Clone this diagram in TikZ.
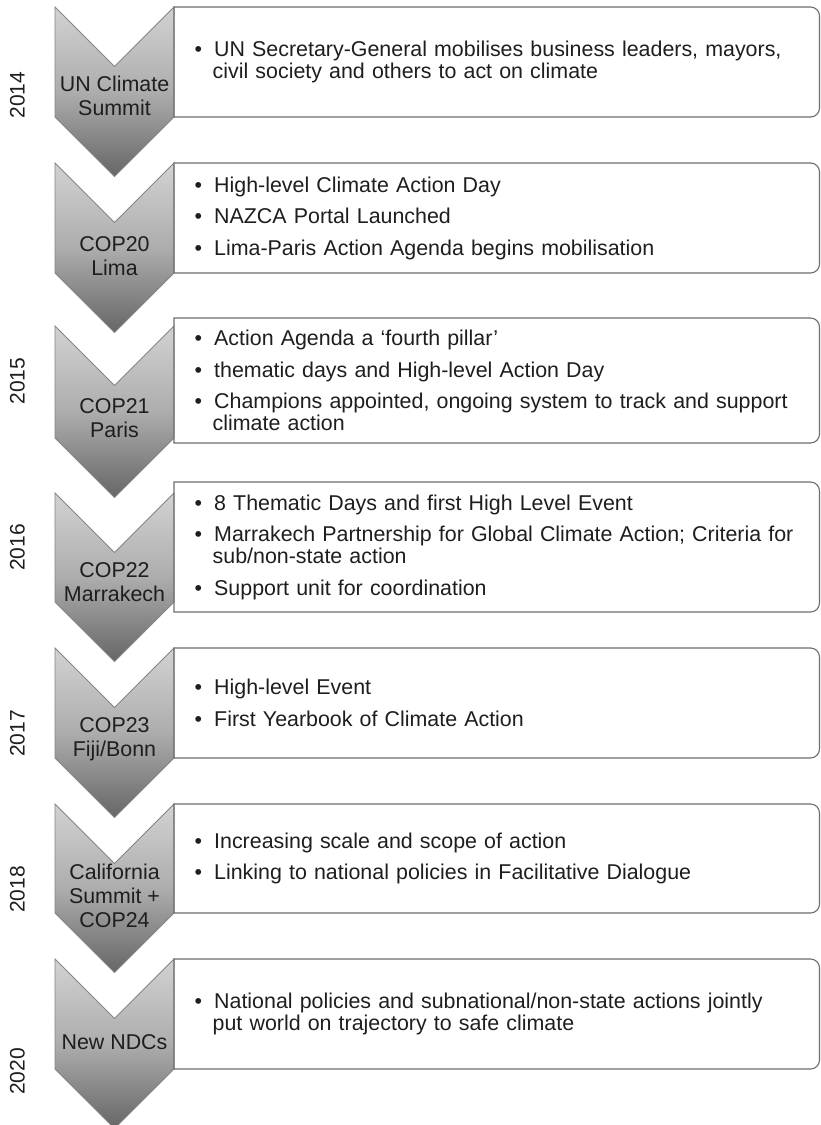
\documentclass[tikz,border=0pt]{standalone}
\usepackage{fontspec}
\setmainfont{Liberation Sans}
\definecolor{txt}{HTML}{1E1E1E}
\definecolor{boxline}{HTML}{6E6E6E}
\definecolor{chevline}{HTML}{858585}
\definecolor{chevtop}{HTML}{D2D2D2}
\definecolor{chevmid}{HTML}{ADADAD}
\definecolor{chevbot}{HTML}{666666}
\newcommand{\bfirst}[1]{\hangindent=18pt\hangafter=1\noindent\makebox[19.5pt][l]{\textbullet}#1\par}
\newcommand{\bnext}[1]{\vskip9.5pt\bfirst{#1}}
\begin{document}
\begin{tikzpicture}[x=1pt,y=1pt,
  chev/.style={draw=chevline, line width=0.9pt, top color=chevtop, bottom color=chevbot, middle color=chevmid, line join=miter},
  boxdraw/.style={draw=boxline, line width=1.1pt},
  items/.style={anchor=west, inner sep=0pt, text width=640pt, align=left, text=txt, font=\fontsize{21.4}{22}\selectfont},
  clabel/.style={inner sep=0pt, align=center, text=txt, font=\fontsize{21.4}{24}\selectfont},
  year/.style={inner sep=0pt, rotate=90, text=txt, font=\fontsize{21}{24}\selectfont}]
\fill[white] (0,0) rectangle (820,-1125);
\useasboundingbox (0,0) rectangle (820,-1125);

% chevrons
\draw[chev] (55,-7) -- (114.5,-66.5) -- (174,-7) -- (174,-117) -- (114.5,-176.5) -- (55,-117) -- cycle;
\draw[chev] (55,-163) -- (114.5,-222.5) -- (174,-163) -- (174,-273) -- (114.5,-332.5) -- (55,-273) -- cycle;
\draw[chev] (55,-326) -- (114.5,-385.5) -- (174,-326) -- (174,-438) -- (114.5,-497.5) -- (55,-438) -- cycle;
\draw[chev] (55,-493) -- (114.5,-552.5) -- (174,-493) -- (174,-602) -- (114.5,-661.5) -- (55,-602) -- cycle;
\draw[chev] (55,-648) -- (114.5,-707.5) -- (174,-648) -- (174,-758) -- (114.5,-817.5) -- (55,-758) -- cycle;
\draw[chev] (55,-804) -- (114.5,-863.5) -- (174,-804) -- (174,-913) -- (114.5,-972.5) -- (55,-913) -- cycle;
\draw[chev] (55,-959) -- (114.5,-1018.5) -- (174,-959) -- (174,-1069) -- (114.5,-1128.5) -- (55,-1069) -- cycle;

% boxes
\draw[boxdraw] (174,-7) -- (810.5,-7) arc[start angle=90,end angle=0,radius=9] -- (819.5,-108) arc[start angle=0,end angle=-90,radius=9] -- (174,-117) -- cycle;
\draw[boxdraw] (174,-163) -- (810.5,-163) arc[start angle=90,end angle=0,radius=9] -- (819.5,-264) arc[start angle=0,end angle=-90,radius=9] -- (174,-273) -- cycle;
\draw[boxdraw] (174,-318) -- (810.5,-318) arc[start angle=90,end angle=0,radius=9] -- (819.5,-434) arc[start angle=0,end angle=-90,radius=9] -- (174,-443) -- cycle;
\draw[boxdraw] (174,-482) -- (810.5,-482) arc[start angle=90,end angle=0,radius=9] -- (819.5,-603) arc[start angle=0,end angle=-90,radius=9] -- (174,-612) -- cycle;
\draw[boxdraw] (174,-648) -- (810.5,-648) arc[start angle=90,end angle=0,radius=9] -- (819.5,-749) arc[start angle=0,end angle=-90,radius=9] -- (174,-758) -- cycle;
\draw[boxdraw] (174,-804) -- (810.5,-804) arc[start angle=90,end angle=0,radius=9] -- (819.5,-904) arc[start angle=0,end angle=-90,radius=9] -- (174,-913) -- cycle;
\draw[boxdraw] (174,-959) -- (810.5,-959) arc[start angle=90,end angle=0,radius=9] -- (819.5,-1060) arc[start angle=0,end angle=-90,radius=9] -- (174,-1069) -- cycle;

% chevron labels
\node[clabel] (c1) at (114.5,-95.8) {UN Climate\\Summit};
\node[clabel] (c2) at (114.5,-255.8) {COP20\\Lima};
\node[clabel] (c3) at (114.5,-418.3) {COP21\\Paris};
\node[clabel] (c4) at (114.5,-581.8) {COP22\\Marrakech};
\node[clabel] (c5) at (114.5,-739.5) {COP23\\Fiji/Bonn};
\node[clabel] (c6) at (114.5,-895.8) {California\\Summit +\\COP24};
\node[clabel] (c7) at (114.5,-1042.3) {New NDCs};

% years
\node[year] (y1) at (17.5,-95) {2014};
\node[year] (y2) at (17.5,-381) {2015};
\node[year] (y3) at (17.5,-547.5) {2016};
\node[year] (y4) at (17.5,-733.5) {2017};
\node[year] (y5) at (17.5,-889.5) {2018};
\node[year] (y6) at (17.5,-1071.5) {2020};

% box texts
\node[items] (t1) at (194.5,-62) {\bfirst{UN Secretary-General mobilises business leaders, mayors,\newline civil society and others to act on climate}};
\node[items] (t2) at (194.5,-218) {\bfirst{High-level Climate Action Day}\bnext{NAZCA Portal Launched}\bnext{Lima-Paris Action Agenda begins mobilisation}};
\node[items] (t3) at (194.5,-380.5) {\bfirst{Action Agenda a ‘fourth pillar’}\bnext{thematic days and High-level Action Day}\bnext{Champions appointed, ongoing system to track and support\newline climate action}};
\node[items] (t4) at (194.5,-547) {\bfirst{8 Thematic Days and first High Level Event}\bnext{Marrakech Partnership for Global Climate Action; Criteria for\newline sub/non-state action}\bnext{Support unit for coordination}};
\node[items] (t5) at (194.5,-703) {\bfirst{High-level Event}\bnext{First Yearbook of Climate Action}};
\node[items] (t6) at (194.5,-858.5) {\bfirst{Increasing scale and scope of action}\bnext{Linking to national policies in Facilitative Dialogue}};
\node[items] (t7) at (194.5,-1014) {\bfirst{National policies and subnational/non-state actions jointly\newline put world on trajectory to safe climate}};
\end{tikzpicture}
\end{document}
